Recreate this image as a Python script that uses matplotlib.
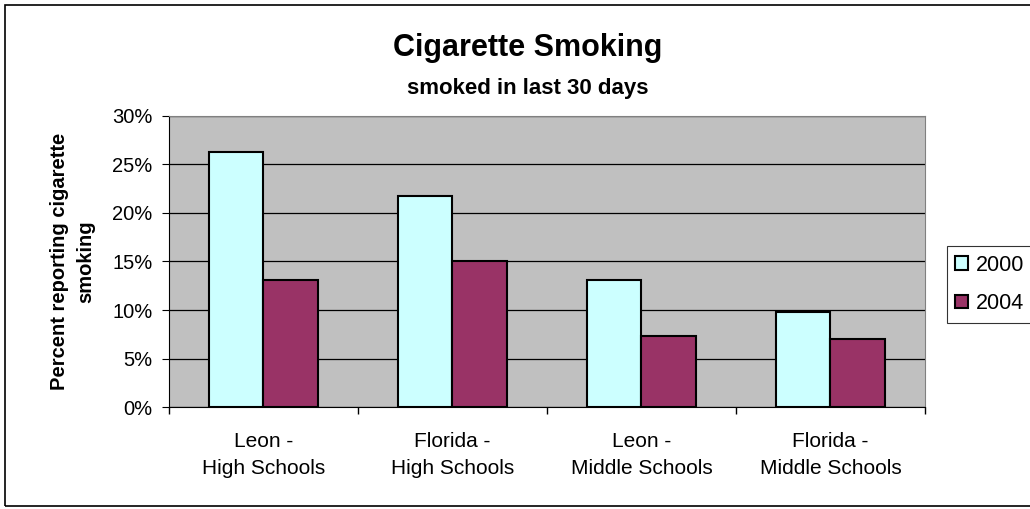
import matplotlib.pyplot as plt
import numpy as np
from matplotlib.patches import Rectangle
from matplotlib.ticker import FixedLocator, PercentFormatter

plt.rcParams['font.family'] = ['Liberation Sans', 'DejaVu Sans']

categories = ['Leon -\nHigh Schools', 'Florida -\nHigh Schools',
              'Leon -\nMiddle Schools', 'Florida -\nMiddle Schools']
series_names = ['2000', '2004']
values_2000 = [26.3, 21.7, 13.1, 9.8]
values_2004 = [13.1, 15.0, 7.3, 7.0]
y_ticks = [0, 5, 10, 15, 20, 25, 30]

fig = plt.figure(figsize=(10.3, 5.09), dpi=100)
ax = fig.add_axes([0.164, 0.2, 0.734, 0.5727])
ax.set_facecolor('#C0C0C0')

x = np.arange(len(categories))
w = 0.29
ax.bar(x - w / 2, values_2000, w, color='#CCFFFF', edgecolor='black',
       linewidth=1.5, label=series_names[0], zorder=3)
ax.bar(x + w / 2, values_2004, w, color='#993366', edgecolor='black',
       linewidth=1.5, label=series_names[1], zorder=3)

ax.set_xlim(-0.5, len(categories) - 0.5)
ax.set_ylim(0, 30)
ax.set_yticks(y_ticks)
ax.yaxis.set_major_formatter(PercentFormatter(decimals=0))
ax.grid(axis='y', color='black', linewidth=0.9, zorder=1)

# category labels centered, tick marks on boundaries
ax.set_xticks(x)
ax.set_xticklabels(categories, fontsize=15, linespacing=1.55)
ax.tick_params(axis='x', length=0, pad=18)
ax.xaxis.set_minor_locator(FixedLocator(np.arange(len(categories) + 1) - 0.5))
ax.tick_params(axis='x', which='minor', length=5, width=1, direction='out')
ax.tick_params(axis='y', labelsize=14.5, length=5, direction='out', pad=7)

for side in ['top', 'right']:
    ax.spines[side].set_color('#808080')
for side in ['left', 'bottom']:
    ax.spines[side].set_color('black')

ax.set_ylabel('Percent reporting cigarette\nsmoking', fontsize=14.5,
              fontweight='bold', labelpad=12, linespacing=1.5)

fig.text(0.512, 0.906, 'Cigarette Smoking', ha='center', va='center',
         fontsize=22, fontweight='bold')
fig.text(0.512, 0.827, 'smoked in last 30 days', ha='center', va='center',
         fontsize=16, fontweight='bold')

leg = fig.legend(loc='center left', bbox_to_anchor=(0.919, 0.441),
                 fontsize=15.5, frameon=True, fancybox=False,
                 edgecolor='black', handlelength=0.6, handleheight=0.6,
                 handletextpad=0.35, borderpad=0.4, labelspacing=0.8,
                 borderaxespad=0)
leg.get_frame().set_linewidth(0.8)

# outer chart border
fig.patches.append(Rectangle((0.005, 0.006), 1.2, 0.985, transform=fig.transFigure,
                             fill=False, edgecolor='black', linewidth=1.2))

fig.savefig('out.png', dpi=100)
